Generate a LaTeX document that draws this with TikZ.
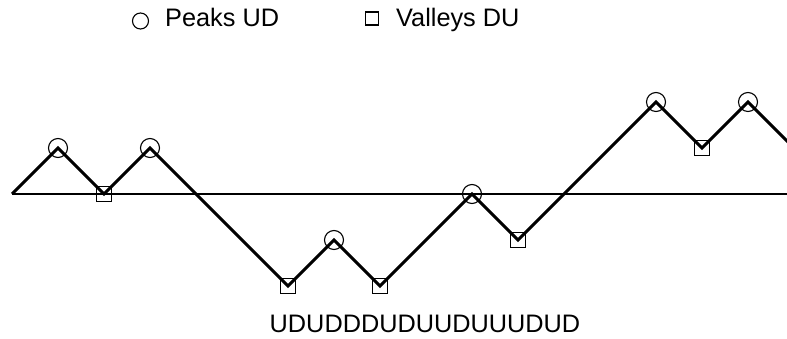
\documentclass[tikz,border=0pt]{standalone}
\usepackage{fontspec}
\setmainfont{Liberation Sans}
\usepackage{tikz}
\usetikzlibrary{positioning}

\tikzset{
  peakmark/.style={draw, circle, line width=1.1pt, minimum size=19pt, inner sep=0pt},
  valleymark/.style={draw, rectangle, line width=1.1pt, minimum size=15pt, inner sep=0pt},
  walk/.style={line width=3pt},
  zeroline/.style={line width=1.3pt},
  bigtext/.style={inner sep=0pt, anchor=base west, font=\fontsize{25.3}{30}\selectfont}
}

\begin{document}
\begin{tikzpicture}[x=46pt, y=46pt]

           \useasboundingbox (-12pt,-145pt) rectangle (775pt,194pt);
           \clip (-12pt,-145pt) rectangle (775pt,194pt);

           % Zero level
           \draw[zeroline] (0,0)--(775pt,0);

           % Walk
           \draw[walk] (0,0)--(1,1)--(2,0)--(3,1)--(4,0)--(5,-1)--(6,-2)--(7,-1)--(8,-2)
           --(9,-1)--(10,0)--(11,-1)--(12,0)--(13,1)--(14,2)--(15,1)--(16,2)--(17,1);

           % Peaks UD
           \node[peakmark] (p1) at (1,1) {};
           \node[peakmark] (p2) at (3,1) {};
           \node[peakmark] (p3) at (7,-1) {};
           \node[peakmark] (p4) at (10,0) {};
           \node[peakmark] (p5) at (14,2) {};
           \node[peakmark] (p6) at (16,2) {};

           % Valleys DU
           \node[valleymark] (v1) at (2,0) {};
           \node[valleymark] (v2) at (6,-2) {};
           \node[valleymark] (v3) at (8,-2) {};
           \node[valleymark] (v4) at (11,-1) {};
           \node[valleymark] (v5) at (15,1) {};

           % Legend
           \node[peakmark, minimum size=16pt] (keypeak) at (128.5pt,173pt) {};
           \node[bigtext] (keypeaktext) at (153pt,167pt) {Peaks UD};
           \node[valleymark, minimum size=13pt] (keyvalley) at (360pt,175.5pt) {};
           \node[bigtext] (keyvalleytext) at (384pt,167pt) {Valleys DU};

           % Word
           \node[bigtext, anchor=base] (word) at (413pt,-139pt) {UDUDDDUDUUDUUUDUD};

\end{tikzpicture}
\end{document}
